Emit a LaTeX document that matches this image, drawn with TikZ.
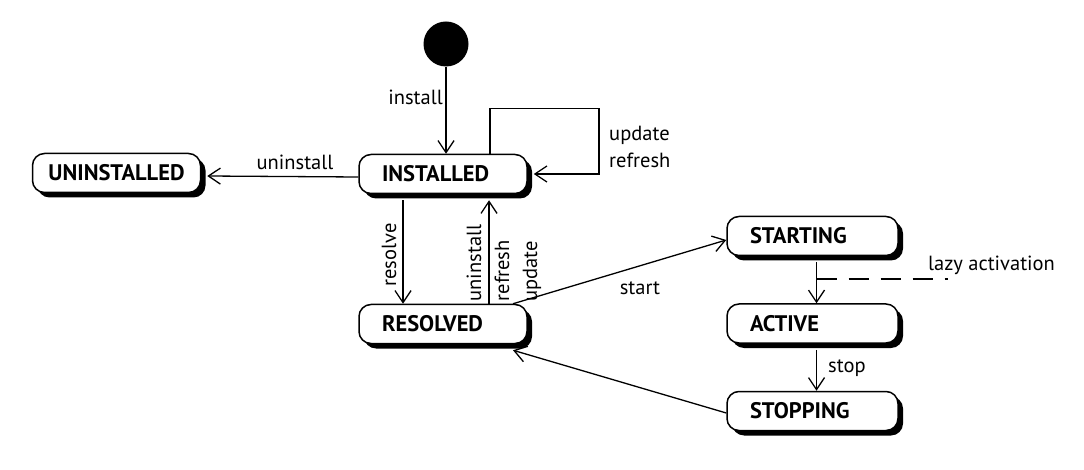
\documentclass[tikz,border=0pt]{standalone}
\usepackage{fontspec}
\setmainfont{PT Sans}
\usetikzlibrary{arrows.meta,shadows}
\begin{document}
\begin{tikzpicture}[x=1pt,y=-1pt,
  state/.style={draw, line width=1.5pt, fill=white, rounded corners=12pt,
    minimum width=168pt, minimum height=39pt, text width=122pt, inner xsep=23pt,
    align=left, font=\fontsize{22.5}{26}\selectfont\bfseries,
    general shadow={fill=black, shadow xshift=5pt, shadow yshift=-5pt}},
  rstate/.style={state, minimum width=171pt, text width=125pt},
  lbl/.style={font=\fontsize{20.5}{27}\selectfont, inner sep=0pt},
  conn/.style={line width=1.3pt, -{Straight Barb[length=12pt,width=16pt]}}
]
\useasboundingbox (0,0) rectangle (1084,470);

\node[circle, fill=black, minimum size=45pt, inner sep=0pt] (init) at (446,44) {};

\node[state, text width=145pt, inner xsep=11pt, align=center] (uninst) at (116.5,173) {UNINSTALLED};
\node[state] (inst) at (443,174) {INSTALLED};
\node[state] (res) at (443,324) {RESOLVED};
\node[rstate] (starting) at (812.5,236) {STARTING};
\node[rstate] (active) at (812.5,323.5) {ACTIVE};
\node[rstate] (stopping) at (812.5,411) {STOPPING};

% install
\draw[conn] (init) -- (init |- inst.north);
\node[lbl, anchor=east] (linstall) at (443,97) {install};

% uninstall
\draw[conn] ([yshift=-3pt]inst.west) -- ([xshift=6pt,yshift=-3pt]uninst.east);
\node[lbl] (luninst) at (295,162) {uninstall};

% self loop
\draw[conn] ([xshift=47pt]inst.north) -- ++(0,-45.5) -- ++(109,0) |- ([xshift=6pt]inst.east);
\node[lbl, anchor=west, align=left] (lupd) at (609,147) {update\\refresh};

% resolve
\draw[conn] ([xshift=-40pt,yshift=-6pt]inst.south) -- ([xshift=-40pt]res.north);
\node[lbl, rotate=90] (lres) at (389,255) {resolve};

% back up
\draw[conn] ([xshift=46pt]res.north) -- ([xshift=46pt,yshift=-6pt]inst.south);
\node[lbl, rotate=90, align=left, font=\fontsize{20.5}{28}\selectfont] (lback) at (504,263) {uninstall\\refresh\\update};

% start
\draw[conn] ([xshift=70pt]res.north) -- ([yshift=-4pt]starting.west);
\node[lbl] (lstart) at (640,288) {start};

% stopping -> resolved
\draw[conn] ([yshift=-2pt]stopping.west) -- ([xshift=70pt,yshift=-6pt]res.south);

% starting -> active
\coordinate (sa) at ([xshift=4pt]starting.south);
\draw[conn] ([yshift=-6pt]sa) -- ([xshift=4pt]active.north);
\coordinate (lz) at (948,279);
\draw[line width=1.6pt, dash pattern=on 20pt off 12pt] (sa |- lz) -- (lz);
\node[lbl, anchor=west] (llazy) at (928,265) {lazy activation};

% stop
\draw[conn] ([xshift=4pt,yshift=-6pt]active.south) -- ([xshift=4pt]stopping.north);
\node[lbl, anchor=west] (lstop) at (828,368) {stop};
\end{tikzpicture}
\end{document}
